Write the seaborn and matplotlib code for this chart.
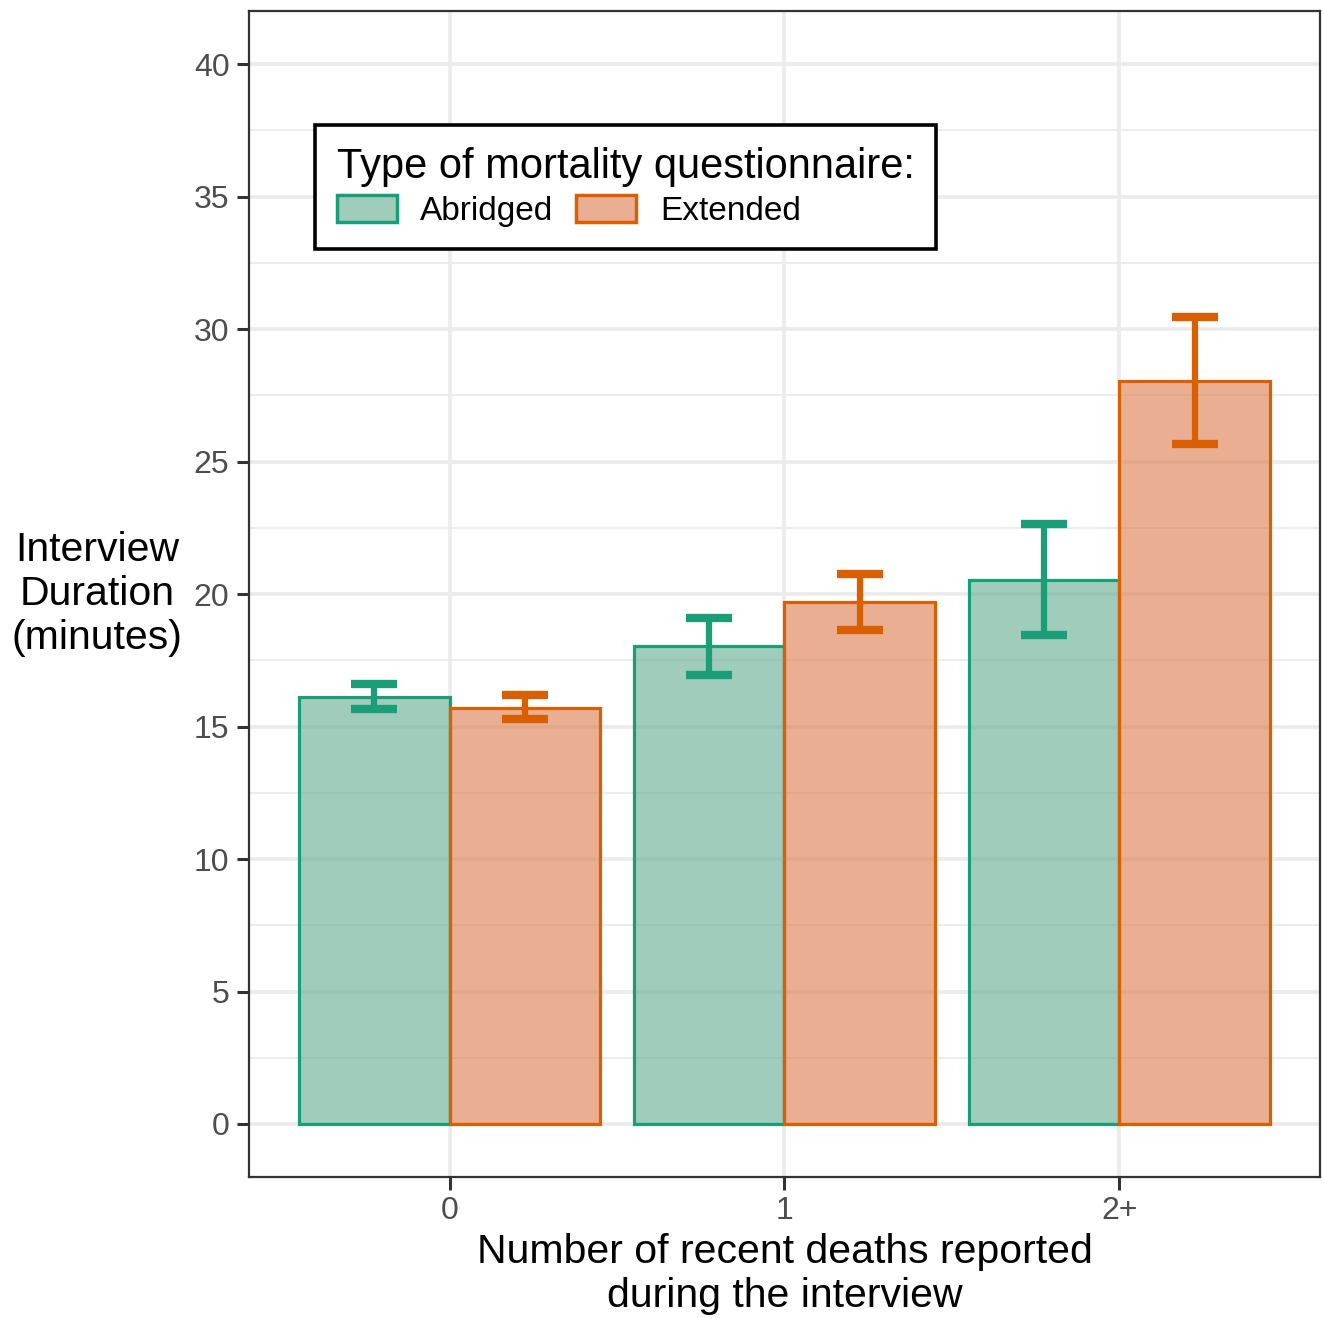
import matplotlib
matplotlib.use("Agg")
import matplotlib.pyplot as plt
from matplotlib.ticker import MultipleLocator
from matplotlib.patches import Patch
import numpy as np
import pandas as pd
import seaborn as sns

# Interview duration by number of recent deaths and questionnaire type
deaths = ["0", "1", "2+"]
questionnaire = ["Abridged", "Extended"]
abridged_mean = [16.1, 18.05, 20.55]
abridged_low = [15.65, 16.95, 18.45]
abridged_high = [16.6, 19.1, 22.65]
extended_mean = [15.7, 19.7, 28.05]
extended_low = [15.3, 18.65, 25.65]
extended_high = [16.2, 20.75, 30.45]

line_colors = {"Abridged": "#1B9E77", "Extended": "#D95F02"}
fill_colors = {"Abridged": (97 / 255, 172 / 255, 143 / 255, 0.6),
               "Extended": (220 / 255, 123 / 255, 73 / 255, 0.6)}

df = pd.DataFrame({
    "deaths": deaths * 2,
    "type": ["Abridged"] * 3 + ["Extended"] * 3,
    "duration": abridged_mean + extended_mean,
    "low": abridged_low + extended_low,
    "high": abridged_high + extended_high,
})

sns.set_theme(style="white")
plt.rcParams["font.family"] = ["Liberation Sans", "DejaVu Sans"]
plt.rcParams["text.color"] = "black"

fig = plt.figure(figsize=(13.24, 13.18), dpi=100)
ax = fig.add_axes([0.188, 0.107, 0.809, 0.8845])

sns.barplot(data=df, x="deaths", y="duration", hue="type", order=deaths,
            hue_order=questionnaire, palette=line_colors, width=0.9, gap=0,
            errorbar=None, legend=False, ax=ax, zorder=2)

# translucent fill with a solid outline
bars = ax.patches[:6]
for i, p in enumerate(bars):
    t = questionnaire[i // 3]
    p.set_facecolor(fill_colors[t])
    p.set_edgecolor(line_colors[t])
    p.set_linewidth(2.3)

# error bars at the bar centres
for i, p in enumerate(bars):
    t = questionnaire[i // 3]
    j = i % 3
    row = df[(df["type"] == t) & (df["deaths"] == deaths[j])].iloc[0]
    xc = p.get_x() + p.get_width() / 2
    ax.errorbar([xc], [row["duration"]],
                yerr=[[row["duration"] - row["low"]], [row["high"] - row["duration"]]],
                fmt="none", ecolor=line_colors[t], elinewidth=4.5, capsize=16.5,
                capthick=6, zorder=4)

ax.set_xlim(-0.6, 2.6)
ax.set_ylim(-2, 42)
ax.yaxis.set_major_locator(MultipleLocator(5))
ax.yaxis.set_minor_locator(MultipleLocator(2.5))

ax.set_axisbelow(True)
ax.grid(which="major", color="#EBEBEB", linewidth=2.6, zorder=0)
ax.grid(which="minor", axis="y", color="#EBEBEB", linewidth=1.3, zorder=0)

for s in ax.spines.values():
    s.set_visible(True)
    s.set_color("#333333")
    s.set_linewidth(1.6)

ax.tick_params(axis="both", which="major", length=9, width=2.2, color="#333333",
               labelsize=23, labelcolor="#4D4D4D", pad=5, left=True, bottom=True)
ax.tick_params(axis="y", which="minor", length=0)

ax.set_xlabel("Number of recent deaths reported\nduring the interview", fontsize=29.5,
              color="black", labelpad=5, linespacing=1.2)
ax.set_ylabel("Interview\nDuration\n(minutes)", fontsize=29.5, color="black",
              rotation=0, ha="center", va="center", linespacing=1.2)
ax.yaxis.set_label_coords(-0.142, 0.5)

handles = [Patch(facecolor=fill_colors[t], edgecolor=line_colors[t],
                 linewidth=2.5, label=t) for t in questionnaire]
leg = ax.legend(handles=handles, title="Type of mortality questionnaire:", ncol=2,
                loc="upper left", bbox_to_anchor=(0.0616, 0.902), borderaxespad=0,
                fontsize=24, title_fontsize=30, frameon=True, fancybox=False,
                handlelength=1.8, handleheight=0.85, handletextpad=0.7,
                columnspacing=0.7, borderpad=0.65, labelspacing=0.25,
                labelcolor="black")
leg._legend_box.align = "left"
leg.get_title().set_color("black")
leg.get_frame().set_edgecolor("black")
leg.get_frame().set_linewidth(2.6)
leg.get_frame().set_alpha(1)

fig.savefig("out.png", dpi=100)
